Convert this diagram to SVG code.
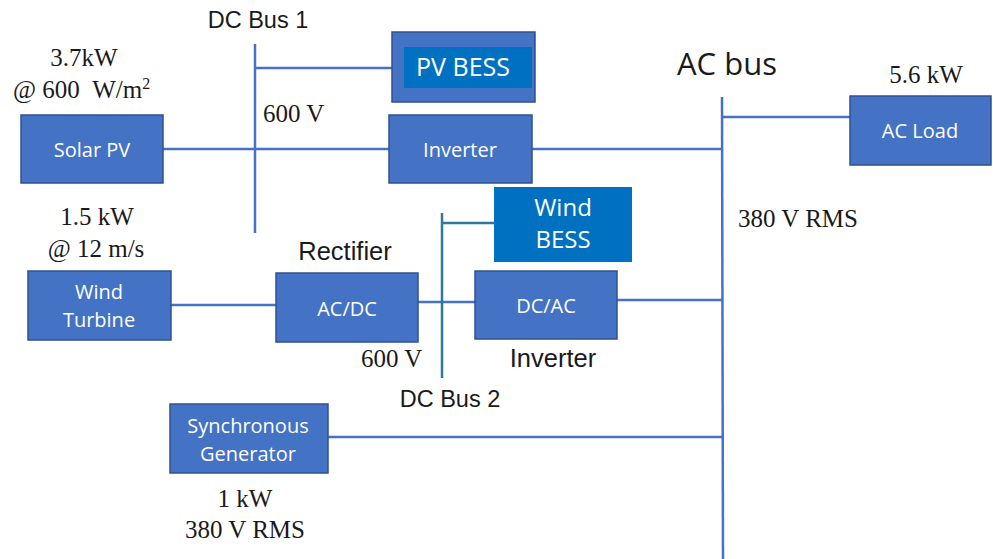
<svg xmlns="http://www.w3.org/2000/svg" width="993" height="559" viewBox="0 0 993 559">
<style>
.box{fill:#4472C4;stroke:#2F528F;stroke-width:1.5}
.bess{fill:#0070C0}
.lbl{font-family:"Open Sans","Noto Sans",sans-serif;font-size:20px;fill:#fff;text-anchor:middle}
.sans{font-family:"Liberation Sans",Arial,sans-serif;font-size:23.5px;fill:#1a1a1a;text-anchor:middle}
.sans2{font-size:25.5px}
.serif{font-family:"Liberation Serif","Times New Roman",serif;font-size:25px;fill:#1a1a1a;text-anchor:middle}
.start{text-anchor:start}
.ln{stroke:#4472C4;stroke-width:2.5;fill:none}
.ln2{stroke:#2B7A9E;stroke-width:2.5;fill:none}
</style>
<rect width="993" height="559" fill="#fff"/>
<g id="connectors">
<line class="ln" x1="255" y1="44" x2="255" y2="233"/>
<line class="ln" x1="255" y1="68" x2="392" y2="68"/>
<line class="ln" x1="163" y1="149" x2="389" y2="149"/>
<line class="ln" x1="532" y1="149" x2="722" y2="149"/>
<line class="ln" x1="722" y1="97" x2="723" y2="559"/>
<line class="ln" x1="722" y1="117" x2="850" y2="117"/>
<line class="ln" x1="171" y1="305" x2="276" y2="305"/>
<line class="ln" x1="418" y1="302" x2="475" y2="302"/>
<line class="ln" x1="617" y1="300" x2="723" y2="300"/>
<line class="ln" x1="328" y1="437" x2="723" y2="437"/>
<line class="ln2" x1="442" y1="213" x2="442" y2="378"/>
<line class="ln2" x1="442" y1="223" x2="494" y2="223"/>
</g>
<g id="solar-pv">
<rect class="box" x="21" y="115" width="142" height="68"/>
<text class="lbl" x="92" y="157">Solar PV</text>
<text class="serif" x="84" y="66">3.7kW</text>
<text class="serif start" x="13" y="98">@ 600 &#160;W/m<tspan font-size="16" dy="-9">2</tspan></text>
</g>
<g id="dc-bus-1">
<text class="sans" x="258" y="28">DC Bus 1</text>
<text class="serif start" x="263" y="122">600 V</text>
</g>
<g id="pv-bess">
<rect class="box" x="392" y="32" width="143" height="70"/>
<rect class="bess" x="404" y="47" width="128" height="41"/>
<text class="lbl" x="463" y="76" style="font-size:25px">PV BESS</text>
</g>
<g id="inverter-1">
<rect class="box" x="389" y="115" width="143" height="68"/>
<text class="lbl" x="460" y="157">Inverter</text>
</g>
<g id="ac-bus">
<text x="677" y="75" font-family="'Open Sans','Noto Sans',sans-serif" font-size="31" fill="#1a1a1a">AC bus</text>
<text class="serif start" x="738" y="227">380 V RMS</text>
</g>
<g id="ac-load">
<rect class="box" x="850" y="96" width="141" height="69"/>
<text class="lbl" x="920" y="138">AC Load</text>
<text class="serif" x="926" y="83">5.6 kW</text>
</g>
<g id="wind-turbine">
<rect class="box" x="28" y="271" width="143" height="69"/>
<text class="lbl" x="99" y="299">Wind</text>
<text class="lbl" x="99" y="327">Turbine</text>
<text class="serif" x="97" y="225">1.5 kW</text>
<text class="serif" x="96" y="257">@ 12 m/s</text>
</g>
<g id="rectifier">
<rect class="box" x="276" y="273" width="142" height="69"/>
<text class="lbl" x="347" y="316">AC/DC</text>
<text class="sans sans2" x="345" y="260">Rectifier</text>
</g>
<g id="dc-bus-2">
<text class="serif start" x="361" y="367">600 V</text>
<text class="sans" x="450" y="407">DC Bus 2</text>
</g>
<g id="wind-bess">
<rect class="bess" x="494" y="187" width="138" height="75"/>
<text class="lbl" x="563" y="216" style="font-size:24px">Wind</text>
<text class="lbl" x="563" y="248" style="font-size:24px">BESS</text>
</g>
<g id="inverter-2">
<rect class="box" x="475" y="271" width="142" height="68"/>
<text class="lbl" x="546" y="313">DC/AC</text>
<text class="sans sans2" x="553" y="367">Inverter</text>
</g>
<g id="sync-gen">
<rect class="box" x="170" y="404" width="158" height="69"/>
<text class="lbl" x="248" y="433">Synchronous</text>
<text class="lbl" x="248" y="461">Generator</text>
<text class="serif" x="245" y="507">1 kW</text>
<text class="serif" x="245" y="538">380 V RMS</text>
</g>
</svg>
